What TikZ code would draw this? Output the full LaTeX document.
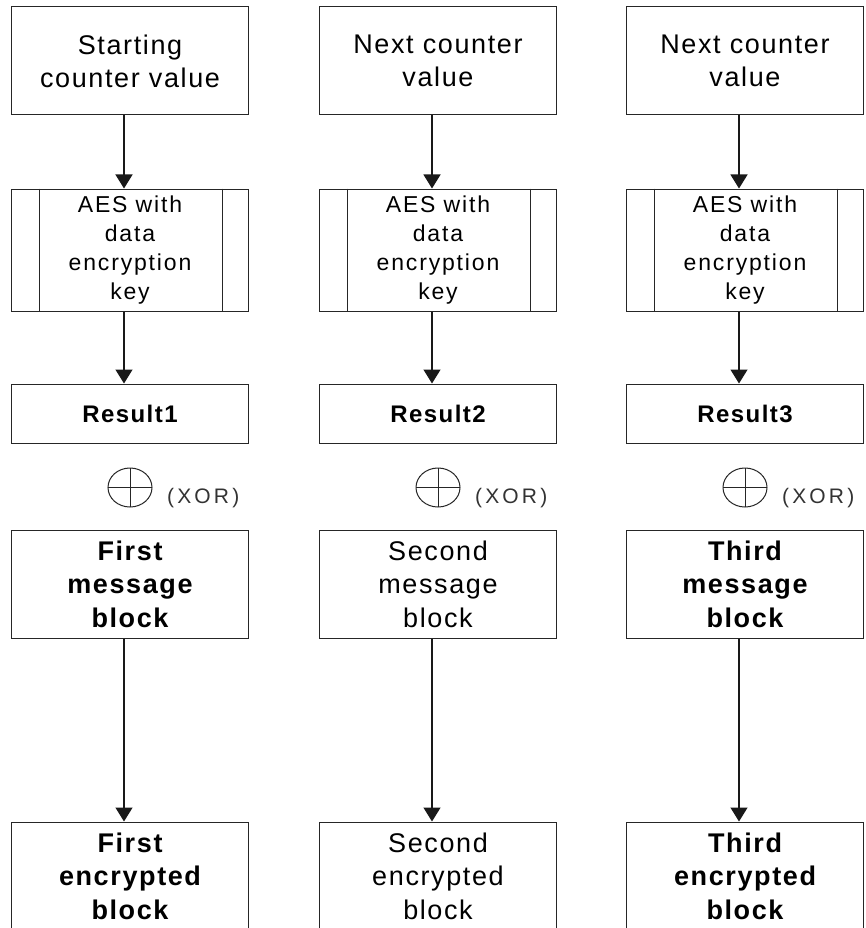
\documentclass[tikz,border=0pt]{standalone}
\usepackage{fontspec}
\setmainfont{Liberation Sans}
\newfontfamily\boxfont[LetterSpace=6]{Liberation Sans}
\newfontfamily\aesfont[LetterSpace=8]{Liberation Sans}
\newfontfamily\xorfont[LetterSpace=15]{Liberation Sans}
\usetikzlibrary{arrows.meta}

\tikzset{
    blockbox/.style={draw=black!85, line width=1pt, minimum width=237pt, inner sep=0pt, align=center},
    countbox/.style={blockbox, minimum height=108pt, font=\boxfont\fontsize{27}{33}\selectfont},
    keybox/.style={blockbox, minimum height=122pt, font=\aesfont\fontsize{23}{29}\selectfont},
    resbox/.style={blockbox, minimum height=59pt, font=\boxfont\bfseries\fontsize{24}{28}\selectfont},
    msgbox/.style={blockbox, minimum height=108pt, font=\boxfont\fontsize{27}{33.5}\selectfont},
    flow/.style={-{Triangle[width=17pt,length=14pt]}, line width=1.3pt, black!90},
    xorline/.style={draw=black!85, line width=1pt},
    xortext/.style={inner sep=0pt, anchor=base west, black!80, font=\xorfont\fontsize{21}{23}\selectfont}
}

\begin{document}
\begin{tikzpicture}[x=1pt, y=-1pt]
    \useasboundingbox (0,0) rectangle (865,928);
    \clip (0,0) rectangle (865,928);
    \fill[white] (0,0) rectangle (865,928);
    \foreach \i/\x/\start/\word/\wt in {1/130/{Starting\\counter value}/First/\bfseries,
                                         2/438/{Next counter\\value}/Second/,
                                         3/745/{Next counter\\value}/Third/\bfseries} {
        \node[countbox] (c\i) at (\x,61) {\start};
        \node[keybox] (aes\i) at (\x,250) {AES with\\data\\encryption\\key};
        \draw[xorline] ([xshift=28pt]aes\i.north west) -- ([xshift=28pt]aes\i.south west);
        \draw[xorline] ([xshift=-27pt]aes\i.north east) -- ([xshift=-27pt]aes\i.south east);
        \node[resbox] (res\i) at (\x,413.5) {Result\i};
        % xor symbol
        \draw[xorline] (\x,487.5) ellipse [x radius=22, y radius=19.5];
        \draw[xorline] (\x-22,487.5) -- (\x+22,487.5);
        \draw[xorline] (\x,468) -- (\x,507);
        \node[xortext] (x\i) at (\x+37,503) {(XOR)};
        \node[msgbox] (msg\i) at (\x,584) {{\wt\word}\\{\wt message}\\{\wt block}};
        \node[msgbox] (enc\i) at (\x,876) {{\wt\word}\\{\wt encrypted}\\{\wt block}};
        \draw[flow] ([xshift=-6pt]c\i.south) -- ([xshift=-6pt]aes\i.north);
        \draw[flow] ([xshift=-6pt]aes\i.south) -- ([xshift=-6pt]res\i.north);
        \draw[flow] ([xshift=-6pt]msg\i.south) -- ([xshift=-6pt]enc\i.north);
    }
\end{tikzpicture}
\end{document}
